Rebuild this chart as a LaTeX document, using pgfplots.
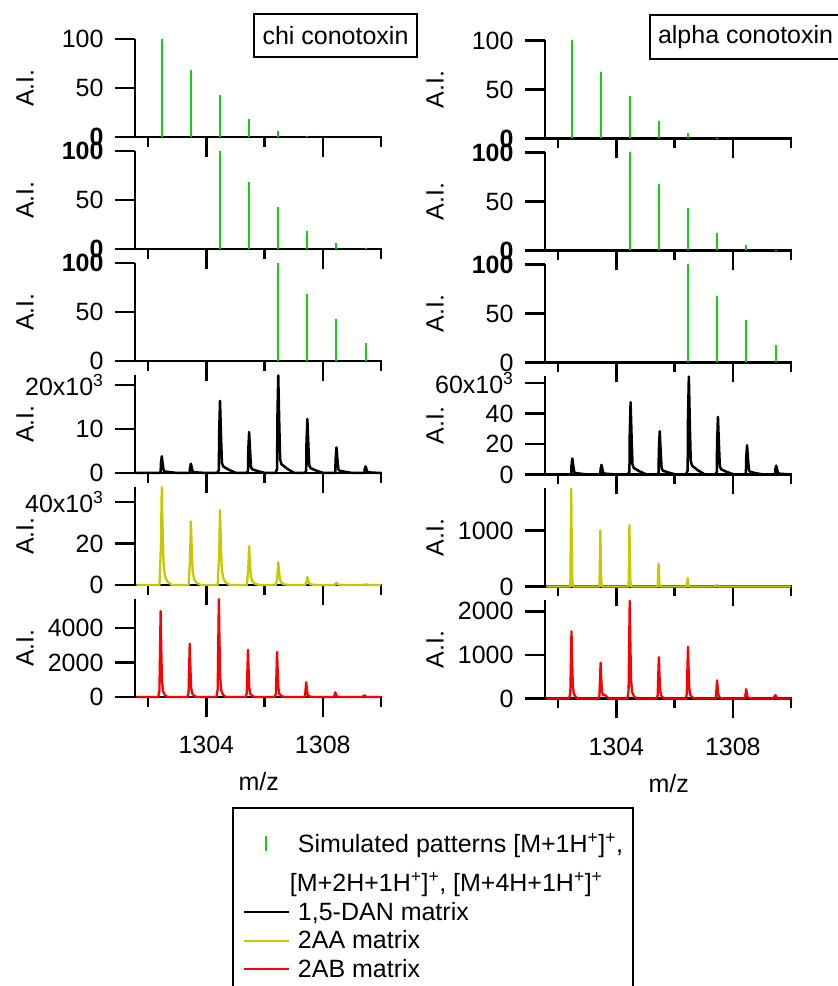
\documentclass[border=0pt]{standalone}
\usepackage{fontspec}
\setmainfont{Liberation Sans}
\usepackage{pgfplots}
\pgfplotsset{compat=1.18}
\definecolor{simgreen}{RGB}{20,205,20}
\definecolor{aayellow}{RGB}{200,200,0}
\definecolor{abred}{RGB}{255,0,0}
\newcommand{\fs}{\fontsize{25}{30}\selectfont}
\pgfplotsset{
  panel/.style={
    scale only axis, width=247.5pt, height=98pt,
    xmin=1301.55, xmax=1310.05, ymin=0,
    axis x line*=bottom, axis y line*=left,
    axis line style={line width=2.4pt},
    tick align=outside,
    major tick length=20pt, minor tick length=10pt,
    every tick/.style={black, line width=2.4pt},
    xtick={1304,1308}, minor xtick={1302,1306,1310},
    xticklabels={},
    clip=false,
    ylabel={A.I.},
    ylabel style={at={(axis description cs:-0.444,0.5)}, anchor=center, font=\fs},
    tick label style={font=\fs},
    yticklabel style={xshift=-8pt},
    xticklabel style={yshift=-16pt},
    xlabel style={at={(axis description cs:0.5,-0.867)}, anchor=center, font=\fs},
  },
  bottompanel/.style={xticklabels={1304,1308}, xlabel={m/z}},
  sim/.style={ycomb, simgreen, line width=2pt},
  dan/.style={black, line width=2.5pt, line join=round},
  aa/.style={aayellow, line width=2.3pt, line join=round},
  ab/.style={abred, line width=2.3pt, line join=round},
  combleg/.style={legend image code/.code={\path[draw=none] (0pt,0pt) -- (45pt,0pt); \draw[##1] (22pt,-8pt) -- (22pt,7pt);}},
  lineleg/.style={legend image code/.code={\draw[##1] (0pt,0pt) -- (45pt,0pt);}},
}
\begin{document}
\begin{tikzpicture}[x=1pt,y=1pt]
\useasboundingbox (0,0) rectangle (838,986);
% ================= LEFT COLUMN (chi conotoxin) =================
\begin{axis}[panel, at={(135pt,849pt)}, anchor=south west, ymax=100, ytick={0,50,100}, yticklabels={\textbf{0},50,100}]
\addplot[sim] coordinates {(1302.47,100)(1303.47,68)(1304.47,43)(1305.47,18)(1306.47,6)(1307.47,1)};
\end{axis}
\begin{axis}[panel, at={(135pt,737pt)}, anchor=south west, ymax=100, ytick={0,50,100}, yticklabels={\textbf{0},50,\textbf{100}}]
\addplot[sim] coordinates {(1304.47,100)(1305.47,68)(1306.47,43)(1307.47,18)(1308.47,6)(1309.47,1)};
\end{axis}
\begin{axis}[panel, at={(135pt,625pt)}, anchor=south west, ymax=100, ytick={0,50,100}, yticklabels={0,50,\textbf{100}}]
\addplot[sim] coordinates {(1306.47,100)(1307.47,68)(1308.47,43)(1309.47,18)};
\end{axis}
\begin{axis}[panel, at={(135pt,513pt)}, anchor=south west, ymax=22.3, ytick={0,10,20}, yticklabels={0,10,20x10\textsuperscript{3}}]
\addplot[dan] coordinates {
(1301.6,0)
(1302.37,0)(1302.43,0.15)(1302.44,2.09)(1302.47,3.8)(1302.505,1.9)(1302.535,0.53)(1302.58,0.34)(1302.77,0.17)(1303.02,0)
(1303.37,0)(1303.43,0.08)(1303.44,1.16)(1303.47,2.1)(1303.505,1.05)(1303.535,0.29)(1303.58,0.19)(1303.77,0.09)(1304.02,0)
(1304.37,0)(1304.43,0.66)(1304.44,9.02)(1304.47,16.4)(1304.505,8.2)(1304.535,2.30)(1304.58,1.48)(1304.77,0.74)(1305.02,0)
(1305.37,0)(1305.43,0.37)(1305.44,5.12)(1305.47,9.3)(1305.505,4.65)(1305.535,1.30)(1305.58,0.84)(1305.77,0.42)(1306.02,0)
(1306.37,0)(1306.43,0.89)(1306.44,12.21)(1306.47,22.2)(1306.505,11.1)(1306.535,3.11)(1306.58,2.0)(1306.77,1.0)(1307.02,0)
(1307.37,0)(1307.43,0.49)(1307.44,6.77)(1307.47,12.3)(1307.505,6.15)(1307.535,1.72)(1307.58,1.11)(1307.77,0.55)(1308.02,0)
(1308.37,0)(1308.43,0.23)(1308.44,3.19)(1308.47,5.8)(1308.505,2.9)(1308.535,0.81)(1308.58,0.52)(1308.77,0.26)(1309.02,0)
(1309.37,0)(1309.43,0.06)(1309.44,0.83)(1309.47,1.5)(1309.505,0.75)(1309.535,0.21)(1309.58,0.14)(1309.77,0.07)(1310.0,0)
};
\end{axis}
\begin{axis}[panel, at={(135pt,401pt)}, anchor=south west, ymax=47.3, ytick={0,20,40}, yticklabels={0,20,40x10\textsuperscript{3}}]
\addplot[aa] coordinates {
(1301.6,0)
(1302.39,0)(1302.44,18.88)(1302.47,47.2)(1302.50,25.96)(1302.53,10.38)(1302.58,4.25)(1302.67,1.42)(1302.82,0)
(1303.39,0)(1303.44,12.28)(1303.47,30.7)(1303.50,16.89)(1303.53,6.75)(1303.58,2.76)(1303.67,0.92)(1303.82,0)
(1304.39,0)(1304.44,14.48)(1304.47,36.2)(1304.50,19.91)(1304.53,7.96)(1304.58,3.26)(1304.67,1.09)(1304.82,0)
(1305.39,0)(1305.44,7.52)(1305.47,18.8)(1305.50,10.34)(1305.53,4.14)(1305.58,1.69)(1305.67,0.56)(1305.82,0)
(1306.39,0)(1306.44,4.44)(1306.47,11.1)(1306.50,6.11)(1306.53,2.44)(1306.58,1.0)(1306.67,0.33)(1306.82,0)
(1307.39,0)(1307.44,1.52)(1307.47,3.8)(1307.50,2.09)(1307.53,0.84)(1307.58,0.34)(1307.67,0.11)(1307.82,0)
(1308.39,0)(1308.44,0.48)(1308.47,1.2)(1308.50,0.66)(1308.53,0.26)(1308.58,0.11)(1308.67,0.04)(1308.82,0)
(1309.40,0)(1309.47,0.3)(1309.55,0)(1310.0,0)
};
\end{axis}
\begin{axis}[panel, bottompanel, at={(135pt,289pt)}, anchor=south west, ymax=5680, ytick={0,2000,4000}, yticklabels={0,2000,4000},
  legend cell align=left,
  legend style={at={(axis description cs:0.3919,-1.1224)}, anchor=north west, draw=black, line width=2pt, font=\fs,
    inner xsep=10pt, inner ysep=25pt, nodes={inner sep=0pt}, row sep=9pt,
    /tikz/every odd column/.append style={column sep=8pt}}]
\addlegendimage{simgreen, line width=2pt, combleg}
\addlegendentry{Simulated patterns [M+1H\textsuperscript{+}]\textsuperscript{+},}
\addlegendimage{empty legend}
\addlegendentry{\rule{0pt}{29pt}\hspace*{-8pt}[M+2H+1H\textsuperscript{+}]\textsuperscript{+}, [M+4H+1H\textsuperscript{+}]\textsuperscript{+}}
\addlegendimage{black, line width=2pt, lineleg}
\addlegendentry{1,5-DAN matrix}
\addlegendimage{aayellow, line width=2pt, lineleg}
\addlegendentry{2AA matrix}
\addlegendimage{abred, line width=2pt, lineleg}
\addlegendentry{2AB matrix}
\addlegendimage{empty legend}
\addlegendentry{\strut}
\addplot[ab, forget plot] coordinates {
(1301.6,0)
(1302.35,0)(1302.39,398)(1302.41,2734)(1302.43,4970)(1302.45,2982)(1302.475,994)(1302.51,348)(1302.58,99)(1302.68,0)
(1303.35,0)(1303.39,247)(1303.41,1700)(1303.43,3090)(1303.45,1854)(1303.475,618)(1303.51,216)(1303.58,62)(1303.68,0)
(1304.35,0)(1304.39,454)(1304.41,3119)(1304.43,5670)(1304.45,3402)(1304.475,1134)(1304.51,397)(1304.58,113)(1304.68,0)
(1305.35,0)(1305.39,219)(1305.41,1507)(1305.43,2740)(1305.45,1644)(1305.475,548)(1305.51,192)(1305.58,55)(1305.68,0)
(1306.35,0)(1306.39,209)(1306.41,1436)(1306.43,2610)(1306.45,1566)(1306.475,522)(1306.51,183)(1306.58,52)(1306.68,0)
(1307.35,0)(1307.39,68)(1307.41,468)(1307.43,850)(1307.45,510)(1307.475,170)(1307.51,60)(1307.58,17)(1307.68,0)
(1308.35,0)(1308.39,22)(1308.41,149)(1308.43,270)(1308.45,162)(1308.475,54)(1308.51,19)(1308.58,5)(1308.68,0)
(1309.35,0)(1309.43,100)(1309.51,0)(1310.0,0)
};
\end{axis}
% ================= RIGHT COLUMN (alpha conotoxin) =================
\begin{axis}[panel, at={(545pt,847.5pt)}, anchor=south west, ymax=100, ytick={0,50,100}, yticklabels={\textbf{0},50,100}]
\addplot[sim] coordinates {(1302.48,100)(1303.48,68)(1304.47,43)(1305.47,18)(1306.47,6)(1307.47,1)};
\end{axis}
\begin{axis}[panel, at={(545pt,735.5pt)}, anchor=south west, ymax=100, ytick={0,50,100}, yticklabels={\textbf{0},50,\textbf{100}}]
\addplot[sim] coordinates {(1304.47,100)(1305.47,68)(1306.47,43)(1307.47,18)(1308.47,6)(1309.47,1)};
\end{axis}
\begin{axis}[panel, at={(545pt,623.5pt)}, anchor=south west, ymax=100, ytick={0,50,100}, yticklabels={0,50,\textbf{100}}]
\addplot[sim] coordinates {(1306.47,100)(1307.47,68)(1308.47,43)(1309.47,18)};
\end{axis}
\begin{axis}[panel, at={(545pt,511.5pt)}, anchor=south west, ymax=64.3, ytick={0,20,40,60}, yticklabels={0,20,40,60x10\textsuperscript{3}}]
\addplot[dan] coordinates {
(1301.6,0)
(1302.39,0)(1302.45,0.42)(1302.46,5.78)(1302.49,10.5)(1302.525,5.25)(1302.555,1.47)(1302.60,0.95)(1302.79,0.47)(1303.04,0)
(1303.39,0)(1303.45,0.25)(1303.46,3.47)(1303.49,6.3)(1303.525,3.15)(1303.555,0.88)(1303.60,0.57)(1303.79,0.28)(1304.04,0)
(1304.39,0)(1304.45,1.9)(1304.46,26.07)(1304.49,47.4)(1304.525,23.7)(1304.555,6.64)(1304.60,4.27)(1304.79,2.13)(1305.04,0)
(1305.39,0)(1305.45,1.14)(1305.46,15.62)(1305.49,28.4)(1305.525,14.2)(1305.555,3.98)(1305.60,2.56)(1305.79,1.28)(1306.04,0)
(1306.39,0)(1306.45,2.57)(1306.46,35.31)(1306.49,64.2)(1306.525,32.1)(1306.555,8.99)(1306.60,5.78)(1306.79,2.89)(1307.04,0)
(1307.39,0)(1307.45,1.51)(1307.46,20.79)(1307.49,37.8)(1307.525,18.9)(1307.555,5.29)(1307.60,3.40)(1307.79,1.70)(1308.04,0)
(1308.39,0)(1308.45,0.77)(1308.46,10.56)(1308.49,19.2)(1308.525,9.6)(1308.555,2.69)(1308.60,1.73)(1308.79,0.86)(1309.04,0)
(1309.39,0)(1309.45,0.24)(1309.46,3.25)(1309.49,5.9)(1309.525,2.95)(1309.555,0.83)(1309.60,0.53)(1309.79,0.27)(1310.0,0)
};
\end{axis}
\begin{axis}[panel, at={(545pt,399.5pt)}, anchor=south west, ymax=1750, ytick={0,1000}, yticklabels={0,1000}]
\addplot[aa] coordinates {
(1301.6,0)
(1302.42,0)(1302.44,1047)(1302.45,1745)(1302.46,1222)(1302.48,175)(1302.51,0)
(1303.42,0)(1303.44,604)(1303.45,1006)(1303.46,704)(1303.48,101)(1303.51,0)
(1304.42,0)(1304.44,658)(1304.45,1096)(1304.46,767)(1304.48,110)(1304.51,0)
(1305.42,0)(1305.44,244)(1305.45,407)(1305.46,285)(1305.48,41)(1305.51,0)
(1306.42,0)(1306.44,90)(1306.45,150)(1306.46,105)(1306.48,15)(1306.51,0)
(1307.42,0)(1307.44,18)(1307.45,30)(1307.46,21)(1307.48,3)(1307.51,0)
(1310.0,0)
};
\end{axis}
\begin{axis}[panel, bottompanel, at={(545pt,287.5pt)}, anchor=south west, ymax=2250, ytick={0,1000,2000}, yticklabels={0,1000,2000}]
\addplot[ab] coordinates {
(1301.6,0)
(1302.38,0)(1302.42,124)(1302.44,849)(1302.46,1544)(1302.48,926)(1302.505,309)(1302.54,108)(1302.61,31)(1302.71,0)
(1303.38,0)(1303.42,66)(1303.44,452)(1303.46,821)(1303.48,493)(1303.505,164)(1303.54,80)(1303.60,90)(1303.66,50)(1303.74,0)
(1304.38,0)(1304.42,180)(1304.44,1235)(1304.46,2245)(1304.48,1347)(1304.505,449)(1304.54,157)(1304.61,45)(1304.71,0)
(1305.38,0)(1305.42,76)(1305.44,523)(1305.46,951)(1305.48,571)(1305.505,190)(1305.54,67)(1305.61,19)(1305.71,0)
(1306.38,0)(1306.42,95)(1306.44,652)(1306.46,1186)(1306.48,712)(1306.505,237)(1306.54,83)(1306.61,24)(1306.71,0)
(1307.38,0)(1307.42,33)(1307.44,230)(1307.46,418)(1307.48,251)(1307.505,84)(1307.54,29)(1307.61,8)(1307.71,0)
(1308.38,0)(1308.42,17)(1308.44,117)(1308.46,213)(1308.48,128)(1308.505,43)(1308.54,15)(1308.61,4)(1308.71,0)
(1309.38,0)(1309.46,76)(1309.54,0)(1310.0,0)
};
\end{axis}
% ================= title boxes =================
\node[draw=black, line width=2pt, minimum width=163pt, minimum height=43pt, inner sep=0pt, font=\fs] at (335.5,950.5) {chi conotoxin};
\node[draw=black, line width=2pt, anchor=west, minimum height=44pt, inner xsep=8pt, inner ysep=0pt, font=\fs] at (649,949) {alpha conotoxin\hspace*{14pt}};
\end{tikzpicture}
\end{document}
